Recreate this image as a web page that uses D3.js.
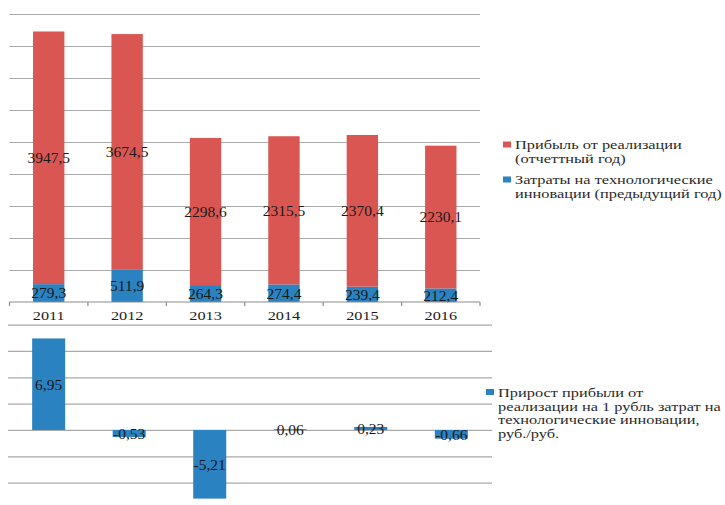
<!DOCTYPE html>
<html>
<head>
<meta charset="utf-8">
<script src="https://cdn.jsdelivr.net/npm/d3@7"></script>
<style>
  body { margin: 0; background: #fff; }
  text.lbl { font-family: "Liberation Serif", "Times New Roman", serif; }
</style>
</head>
<body>
<svg id="chart" width="725" height="505"></svg>
<script>
const years = ["2011", "2012", "2013", "2014", "2015", "2016"];
const profit = [3947.5, 3674.5, 2298.6, 2315.5, 2370.4, 2230.1];
const costs = [279.3, 511.9, 264.3, 274.4, 239.4, 212.4];
const growth = [6.95, -0.53, -5.21, 0.06, 0.23, -0.66];
const topTicks = [0, 500, 1000, 1500, 2000, 2500, 3000, 3500, 4000, 4500];
const bottomTicks = [-6, -4, -2, 0, 2, 4, 6, 8];

const red = "#d95652";
const blue = "#2a82c1";
const grid = "#aaaaaa";
const serif = '"Liberation Serif", "Times New Roman", serif';
const fmt = (v) => String(v).replace(".", ",");
// the picture is a bit wider than tall, so text is stretched horizontally
const legendStretch = 1.31;
const yearStretch = 1.25;

const svg = d3.select("#chart");

// ---- top chart: stacked bars
const x = d3.scaleBand().domain(years).range([9.5, 480]).paddingInner(0.6).paddingOuter(0.3);
const y = d3.scaleLinear().domain([0, 4500]).range([302, 14]);

svg.append("g")
  .attr("transform", "translate(9.5,0)")
  .call(d3.axisLeft(y).tickValues(topTicks.slice(1)).tickSize(-470.5).tickFormat(""))
  .call((g) => g.select(".domain").remove())
  .call((g) => g.selectAll(".tick line").attr("stroke", grid).attr("stroke-width", 1.2));

const stacked = years.map((yr, i) => ({ year: yr, cost: costs[i], profit: profit[i] }));

svg.append("g").selectAll("rect").data(stacked).join("rect")
  .attr("x", (d) => x(d.year))
  .attr("width", x.bandwidth())
  .attr("y", (d) => y(d.cost))
  .attr("height", (d) => y(0) - y(d.cost))
  .attr("fill", blue);

svg.append("g").selectAll("rect").data(stacked).join("rect")
  .attr("x", (d) => x(d.year))
  .attr("width", x.bandwidth())
  .attr("y", (d) => y(d.cost + d.profit))
  .attr("height", (d) => y(d.cost) - y(d.cost + d.profit))
  .attr("fill", red);

const labelsTop = svg.append("g");
labelsTop.selectAll("text.p").data(stacked).join("text")
  .attr("class", "lbl p")
  .style("font-family", serif)
  .style("font-size", "15.5px")
  .attr("text-anchor", "middle")
  .attr("fill", "#1a1a1a")
  .attr("x", (d) => x(d.year) + x.bandwidth() / 2)
  .attr("y", (d) => (y(d.cost) + y(d.cost + d.profit)) / 2)
  .attr("dy", "0.35em")
  .text((d) => fmt(d.profit));
labelsTop.selectAll("text.c").data(stacked).join("text")
  .attr("class", "lbl c")
  .style("font-family", serif)
  .style("font-size", "15.5px")
  .attr("text-anchor", "middle")
  .attr("fill", "#1a1a1a")
  .attr("x", (d) => x(d.year) + x.bandwidth() / 2)
  .attr("y", (d) => (y(0) + y(d.cost)) / 2)
  .attr("dy", "0.35em")
  .text((d) => fmt(d.cost));

// baseline with ticks between categories
const base = svg.append("g").attr("stroke", "#8c8c8c").attr("stroke-width", 1.2);
base.append("line").attr("x1", 9.5).attr("x2", 480).attr("y1", y(0)).attr("y2", y(0));
base.selectAll("line.t").data(d3.range(years.length + 1)).join("line")
  .attr("class", "t")
  .attr("x1", (i) => 9.5 + i * x.step())
  .attr("x2", (i) => 9.5 + i * x.step())
  .attr("y1", y(0))
  .attr("y2", y(0) + 4);

svg.append("g")
  .attr("transform", `translate(0,${y(0)})`)
  .call(d3.axisBottom(x).tickSize(0).tickPadding(9))
  .call((g) => g.select(".domain").remove())
  .call((g) => g.selectAll("text")
    .attr("class", "lbl")
    .style("font-family", serif)
    .style("font-size", "13px")
    .attr("fill", "#1a1a1a")
    .attr("transform", `scale(${yearStretch},1)`));

// legend top
const legTop = [
  { color: red, lines: ["Прибыль от реализации", "(отчеттный год)"], y: 145 },
  { color: blue, lines: ["Затраты на технологические", "инновации (предыдущий год)"], y: 180 },
];
const lt = svg.append("g").attr("fill", "#2a2a2a");
legTop.forEach((e) => {
  lt.append("rect").attr("x", 503).attr("y", e.y - 3.5).attr("width", 8).attr("height", 6).attr("fill", e.color);
  e.lines.forEach((t, j) => {
    lt.append("text")
      .attr("class", "lbl")
      .style("font-family", serif)
      .style("font-size", "12.5px")
      .attr("transform", `translate(515,${e.y + j * 13.5}) scale(${legendStretch},1)`)
      .attr("dy", "0.35em")
      .text(t);
  });
});

// ---- bottom chart: growth per ruble
const x2 = d3.scaleBand().domain(years).range([8, 492]).paddingInner(0.59).paddingOuter(0.3);
const y2 = d3.scaleLinear().domain([-6, 8]).range([509, 324.6]);

svg.append("g")
  .attr("transform", "translate(8,0)")
  .call(d3.axisLeft(y2).tickValues(bottomTicks).tickSize(-484).tickFormat(""))
  .call((g) => g.select(".domain").remove())
  .call((g) => g.selectAll(".tick line").attr("stroke", grid).attr("stroke-width", 1.2));

const gData = years.map((yr, i) => ({ year: yr, v: growth[i] }));

svg.append("g").selectAll("rect").data(gData).join("rect")
  .attr("x", (d) => x2(d.year))
  .attr("width", x2.bandwidth())
  .attr("y", (d) => y2(Math.max(0, d.v)))
  .attr("height", (d) => Math.abs(y2(d.v) - y2(0)))
  .attr("fill", blue);

svg.append("g")
  .selectAll("text").data(gData).join("text")
  .attr("class", "lbl")
  .style("font-family", serif)
  .style("font-size", "15.5px")
  .attr("text-anchor", "middle")
  .attr("fill", "#1a1a1a")
  .attr("x", (d) => x2(d.year) + x2.bandwidth() / 2)
  .attr("y", (d) => (y2(0) + y2(d.v)) / 2)
  .attr("dy", "0.35em")
  .text((d) => fmt(d.v));

// legend bottom
const lb = svg.append("g").attr("fill", "#2a2a2a");
lb.append("rect").attr("x", 486).attr("y", 389).attr("width", 8).attr("height", 6).attr("fill", blue);
["Прирост прибыли от", "реализации на 1 рубль затрат на", "технологические инновации,", "руб./руб."]
  .forEach((t, j) => {
    lb.append("text")
      .attr("class", "lbl")
      .style("font-family", serif)
      .style("font-size", "12.5px")
      .attr("transform", `translate(498,${393 + j * 13.4}) scale(${legendStretch},1)`)
      .attr("dy", "0.35em")
      .text(t);
  });
</script>
</body>
</html>
